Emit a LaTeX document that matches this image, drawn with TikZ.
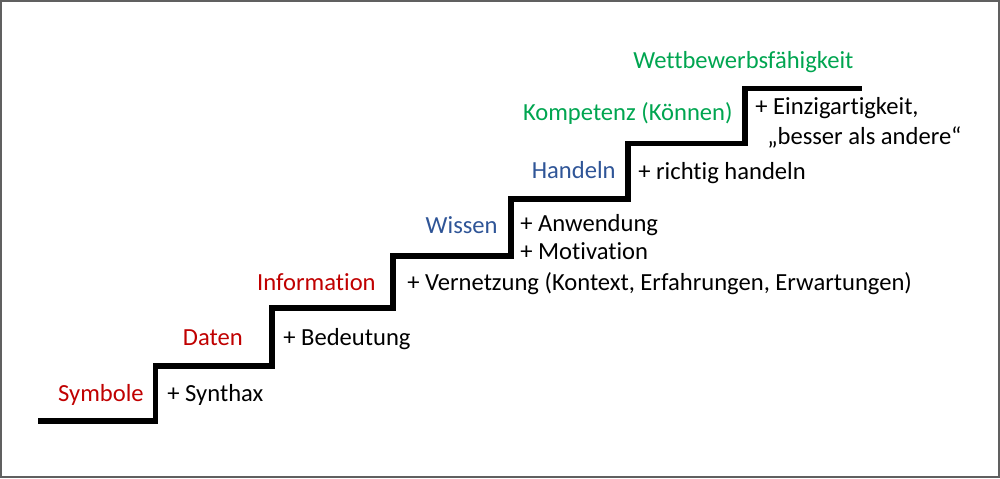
\documentclass[tikz,border=0pt]{standalone}
\usepackage{fontspec}
\setmainfont{Carlito}[Ligatures=NoCommon, RawFeature={-liga;-clig;-calt;-dlig}]
\usepackage{tikz}
\definecolor{stepred}{HTML}{C00000}
\definecolor{stepblue}{HTML}{2F5597}
\definecolor{stepgreen}{HTML}{00A550}
\definecolor{framegray}{HTML}{606060}

\begin{document}
\begin{tikzpicture}[
    x=0.02cm, y=-0.02cm,
    every node/.style={font=\fontsize{14}{16}\selectfont, inner sep=0pt},
    stair/.style={line width=2.9pt, line join=miter},
    level/.style={anchor=base east},
    gain/.style={anchor=base west, text=black},
    lvred/.style={level, text=stepred},
    lvblue/.style={level, text=stepblue},
    lvgreen/.style={level, text=stepgreen}
  ]
  \draw[framegray, line width=1pt] (0.8,0.8) rectangle (999.2,477.2);
  \useasboundingbox (0,0) rectangle (1000,478);
  % staircase
  \draw[stair] (38,421) -- (155,421) -- (155,366) -- (272,366) -- (272,308)
    -- (393,308) -- (393,256) -- (511,256) -- (511,199) -- (628,199)
    -- (628,143) -- (745,143) -- (745,88) -- (862,88);
  % levels
  \node[lvred] (sym) at (144,401) {Symbole};
  \node[lvred] (dat) at (243,345) {Daten};
  \node[lvred] (inf) at (376,290) {Information};
  \node[lvblue] (wis) at (498,233) {Wissen};
  \node[lvblue] (han) at (616,178) {Handeln};
  \node[lvgreen] (kom) at (733,120) {Kompetenz (Können)};
  \node[lvgreen, anchor=base west] (wet) at (633,68) {Wettbewerbsfähigkeit};
  % what is added on each step
  \node[gain] (syn) at (167,401) {+ Synthax};
  \node[gain] (bed) at (283,345) {+ Bedeutung};
  \node[gain] (ver) at (407,290) {+ Vernetzung (Kontext, Erfahrungen, Erwartungen)};
  \node[gain] (anw) at (520,231) {+ Anwendung};
  \node[gain] (mot) at (520,259) {+ Motivation};
  \node[gain] (ric) at (638,179) {+ richtig handeln};
  \node[gain] (ein) at (755,114) {+ Einzigartigkeit,};
  \node[gain] (bes) at (767,144) {„besser als andere“};
\end{tikzpicture}
\end{document}
